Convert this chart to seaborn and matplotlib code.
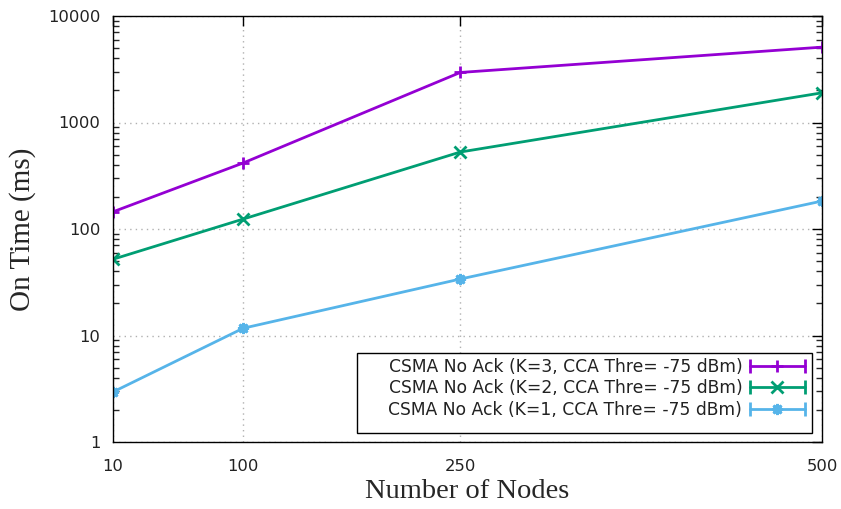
import matplotlib
matplotlib.use("Agg")
import matplotlib.pyplot as plt
import seaborn as sns
import pandas as pd
from matplotlib.lines import Line2D
from matplotlib.legend_handler import HandlerBase
from matplotlib.patches import Rectangle
from matplotlib.ticker import LogLocator, NullFormatter, FixedLocator

nodes = [10, 100, 250, 500]
k3 = [145, 417, 2950, 5100]
k2 = [52, 124, 528, 1900]
k1 = [2.95, 11.7, 33.9, 183]
labels = ["CSMA No Ack (K=3, CCA Thre= -75 dBm)",
          "CSMA No Ack (K=2, CCA Thre= -75 dBm)",
          "CSMA No Ack (K=1, CCA Thre= -75 dBm)"]
colors = ["#9400d3", "#009e73", "#56b4e9"]
markers = ["+", "x", (8, 2, 0)]

sns.set_style("white")
plt.rcParams['font.family'] = ['DejaVu Sans']

fig = plt.figure(figsize=(8.41, 5.09), dpi=100)
ax = fig.add_axes([113/841, 1-442/509, 709/841, 426/509])

series = [k3, k2, k1]
for vals, lab, col, mk in zip(series, labels, colors, markers):
    df = pd.DataFrame({"Nodes": nodes, "OnTime": vals})
    sns.lineplot(data=df, x="Nodes", y="OnTime", ax=ax, color=col, lw=2,
                 marker=mk, markersize=8, markeredgewidth=2, markeredgecolor=col,
                 label=lab, legend=False)

ax.set_yscale("log")
ax.set_xlim(10, 500)
ax.set_ylim(1, 10000)
ax.xaxis.set_major_locator(FixedLocator(nodes))
ax.set_xticklabels([str(n) for n in nodes])
ax.yaxis.set_minor_locator(LogLocator(base=10, subs=range(2, 10), numticks=20))
ax.yaxis.set_minor_formatter(NullFormatter())
ax.set_yticks([1, 10, 100, 1000, 10000])
ax.set_yticklabels(["1", "10", "100", "1000", "10000"])
ax.tick_params(axis="both", which="major", direction="in", length=7, width=1,
               top=True, right=True, labelsize=11.8, colors="black", labelcolor="#222222")
ax.tick_params(axis="x", which="major", pad=12)
ax.tick_params(axis="y", which="major", pad=9)
ax.tick_params(axis="y", which="minor", direction="in", length=4, width=1, left=True, right=True)
ax.grid(True, which="major", color="#b0b0b0", linestyle=(0, (1, 3)), lw=1)
for sp in ax.spines.values():
    sp.set_color("black")
    sp.set_linewidth(1)

ax.set_xlabel("Number of Nodes", family="Liberation Serif", fontsize=20.5, labelpad=4)
ax.set_ylabel("On Time (ms)", family="Liberation Serif", fontsize=21, labelpad=9)

class ErrHandler(HandlerBase):
    def create_artists(self, legend, orig_handle, xdescent, ydescent, width, height, fontsize, trans):
        col = orig_handle.get_color()
        y = height / 2 - ydescent
        x0, x1 = -xdescent, width - xdescent
        line = Line2D([x0, x1], [y, y], color=col, lw=2, transform=trans)
        caps = Line2D([x0, x1], [y, y], ls="", marker="|", markersize=10,
                      markeredgewidth=2, color=col, transform=trans)
        mk = Line2D([(x0 + x1) / 2], [y], ls="", marker=orig_handle.get_marker(),
                    markersize=8, markeredgewidth=2, color=col, transform=trans)
        return [line, caps, mk]

handles = [Line2D([], [], color=c, marker=m) for c, m in zip(colors, markers)]
rect = Rectangle((0.344, 0.021), 0.642, 0.188, transform=ax.transAxes,
                 facecolor="white", edgecolor="black", lw=1, zorder=4)
ax.add_patch(rect)
leg = ax.legend(handles, labels, handler_map={Line2D: ErrHandler()},
                loc="upper right", bbox_to_anchor=(0.99, 0.222), frameon=False,
                markerfirst=False, fontsize=12.3, handlelength=3.2, handletextpad=0.45,
                labelspacing=0.2, borderaxespad=0.2)
leg.set_zorder(5)
for t in leg.get_texts():
    t.set_color("#222222")

fig.savefig("out.png", dpi=100)
